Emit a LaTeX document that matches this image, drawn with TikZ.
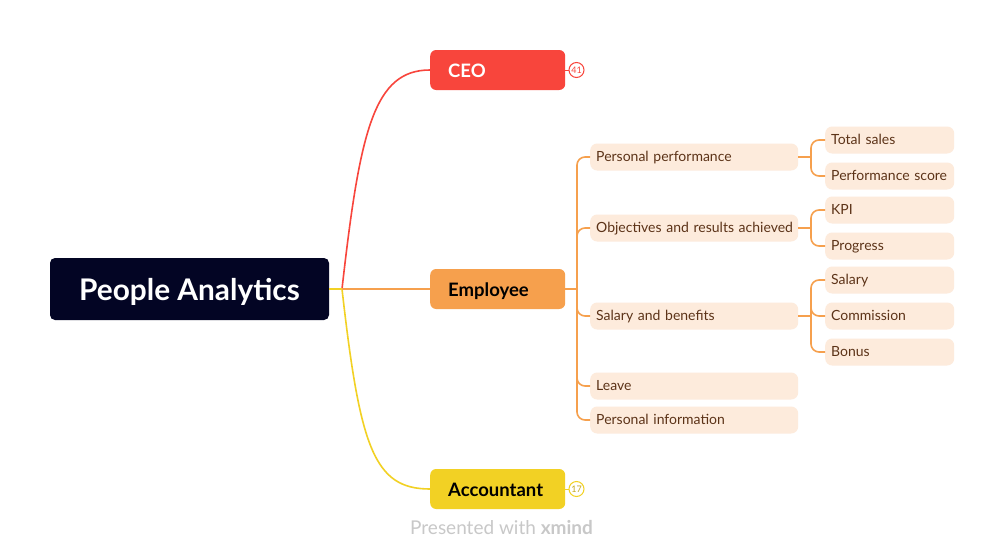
\documentclass[tikz,border=0pt]{standalone}
\usepackage{fontspec}
\setmainfont{Lato}
\definecolor{rootc}{HTML}{030524}
\definecolor{ceoc}{HTML}{F8453C}
\definecolor{empc}{HTML}{F6A04D}
\definecolor{accc}{HTML}{F2D124}
\definecolor{subfill}{HTML}{FDEBDC}
\definecolor{subtext}{HTML}{5C3318}
\definecolor{graytext}{HTML}{C8C8C8}
\begin{document}
\begin{tikzpicture}[x=1pt,y=-1pt,
  rootbox/.style={fill=rootc, rounded corners=5pt, minimum width=279pt, minimum height=62pt, text=white, font=\fontsize{29.8}{32}\selectfont\bfseries, inner sep=0pt, text height=26pt, text depth=4pt},
  mainbox/.style={rounded corners=6pt, anchor=west, text width=99pt, inner xsep=18pt, minimum height=40pt, text height=17pt, text depth=2pt, align=left, font=\fontsize{18.5}{20}\selectfont\bfseries},
  subbox/.style={fill=subfill, rounded corners=7pt, anchor=west, text width=196pt, inner xsep=6pt, minimum height=27pt, text height=11.5pt, text depth=2pt, align=left, text=subtext, font=\fontsize{14}{16}\selectfont},
  leafbox/.style={subbox, text width=117pt},
  badge/.style={circle, draw, line width=1pt, fill=white, minimum size=15pt, inner sep=0pt, font=\fontsize{9}{10}\selectfont},
  subline/.style={draw=empc, line width=1.6pt, rounded corners=8pt}
]
\useasboundingbox (0,0) rectangle (1005,560);
\fill[white] (0,0) rectangle (1005,560);

% nodes
\node[rootbox] (root) at (189.5,289) {People Analytics};
\node[mainbox, fill=ceoc, text=white] (ceo) at (430,70) {CEO};
\node[mainbox, fill=empc, text=black] (emp) at (430,289) {Employee};
\node[mainbox, fill=accc, text=black] (acc) at (430,489) {Accountant};

\node[badge, draw=ceoc, text=ceoc] (b1) at (576.5,70) {41};
\node[badge, draw=accc, text=accc!80!black] (b2) at (576.5,489) {17};

\coordinate (j) at (342,289);
\coordinate (ej) at (577,289);

\node[subbox] (pp) at (590,157) {Personal performance};
\node[subbox] (obj) at (590,228) {\mbox{Objectives and results achieved}};
\node[subbox] (sal) at (590,316) {Salary and benefits};
\node[subbox] (lea) at (590,386) {Leave};
\node[subbox] (pinf) at (590,420) {Personal information};

\node[leafbox] (ts) at (825,140) {Total sales};
\node[leafbox] (ps) at (825,176) {Performance score};
\node[leafbox] (kpi) at (825,210) {KPI};
\node[leafbox] (prog) at (825,246) {Progress};
\node[leafbox] (sa) at (825,280) {Salary};
\node[leafbox] (com) at (825,316) {Commission};
\node[leafbox] (bon) at (825,352) {Bonus};

\coordinate (pj) at (811,157);
\coordinate (oj) at (811,228);
\coordinate (sj) at (811,316);

% main connectors
\draw[ceoc, line width=1.6pt] (j) .. controls (360,130) and (374,70) .. (ceo.west);
\draw[accc, line width=1.6pt] (j) .. controls (360,448) and (374,489) .. (acc.west);
\draw[empc, line width=1.6pt] (j) -- (emp.west);
\draw[accc, line width=1.6pt] (root.east) -- (j);

\draw[ceoc, line width=1pt] (ceo.east) -- (b1.west);
\draw[accc, line width=1pt] (acc.east) -- (b2.west);

% employee children
\draw[subline] (emp.east) -- (ej);
\draw[subline] (ej) |- (pp.west);
\draw[subline] (ej) |- (obj.west);
\draw[subline] (ej) |- (sal.west);
\draw[subline] (ej) |- (lea.west);
\draw[subline] (ej) |- (pinf.west);

% grandchildren
\draw[subline] (pp.east) -- (pj);
\draw[subline] (pj) |- (ts.west);
\draw[subline] (pj) |- (ps.west);
\draw[subline] (obj.east) -- (oj);
\draw[subline] (oj) |- (kpi.west);
\draw[subline] (oj) |- (prog.west);
\draw[subline] (sal.east) -- (sj);
\draw[subline] (sj) |- (sa.west);
\draw[subline] (sj) |- (com.west);
\draw[subline] (sj) |- (bon.west);

% footer
\node[anchor=west, text=graytext, font=\fontsize{19}{22}\selectfont, inner sep=0pt] (foot) at (410,528) {Presented with \textbf{xmind}};
\end{tikzpicture}
\end{document}
